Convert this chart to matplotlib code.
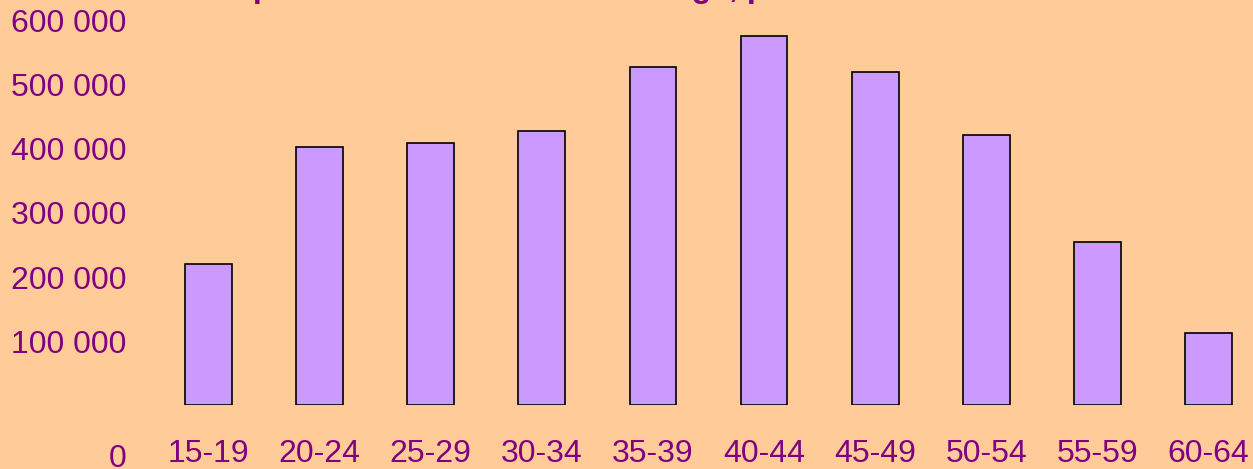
import matplotlib.pyplot as plt
from matplotlib.transforms import ScaledTranslation

plt.rcParams["font.family"] = ["Liberation Sans", "DejaVu Sans"]

age_groups = ["15-19", "20-24", "25-29", "30-34", "35-39",
              "40-44", "45-49", "50-54", "55-59", "60-64"]
persons = [220000, 403000, 409000, 428000, 528000,
           575000, 519000, 422000, 254000, 113000]
y_ticks = [0, 100000, 200000, 300000, 400000, 500000, 600000]
y_labels = ["0", "100 000", "200 000", "300 000", "400 000", "500 000", "600 000"]
title = "Population in the labour force age, persons"

bg = "#FFCC99"
purple = "#800080"

fig = plt.figure(figsize=(12.53, 4.69), dpi=100, facecolor=bg)
ax = fig.add_axes([0.1219, 0.1354, 0.8693, 0.8213], facecolor=bg)

x = list(range(len(age_groups)))
ax.bar(x, persons, width=0.42, color="#CC99FF", edgecolor="black", linewidth=1.2)

ax.set_xlim(-0.5, 9.3)
ax.set_ylim(0, 600000)
ax.set_xticks(x)
ax.set_xticklabels(age_groups)
ax.set_yticks(y_ticks)
ax.set_yticklabels(y_labels)
ax.tick_params(axis="both", length=0, labelsize=23, labelcolor=purple)
ax.tick_params(axis="y", pad=19)
ax.tick_params(axis="x", pad=24)
for s in ax.spines.values():
    s.set_visible(False)

# the "0" label sits lower than its tick in the original
zero = ax.get_yticklabels()[0]
zero.set_transform(zero.get_transform() + ScaledTranslation(0, -0.505, fig.dpi_scale_trans))

# title is cut off at the top edge, only descenders show
fig.text(212 / 1253, 1 + 2.5 / 469, title, ha="left", va="baseline",
         fontsize=23, fontweight="bold", color=purple)

fig.savefig("out.png", dpi=100, facecolor=bg)
